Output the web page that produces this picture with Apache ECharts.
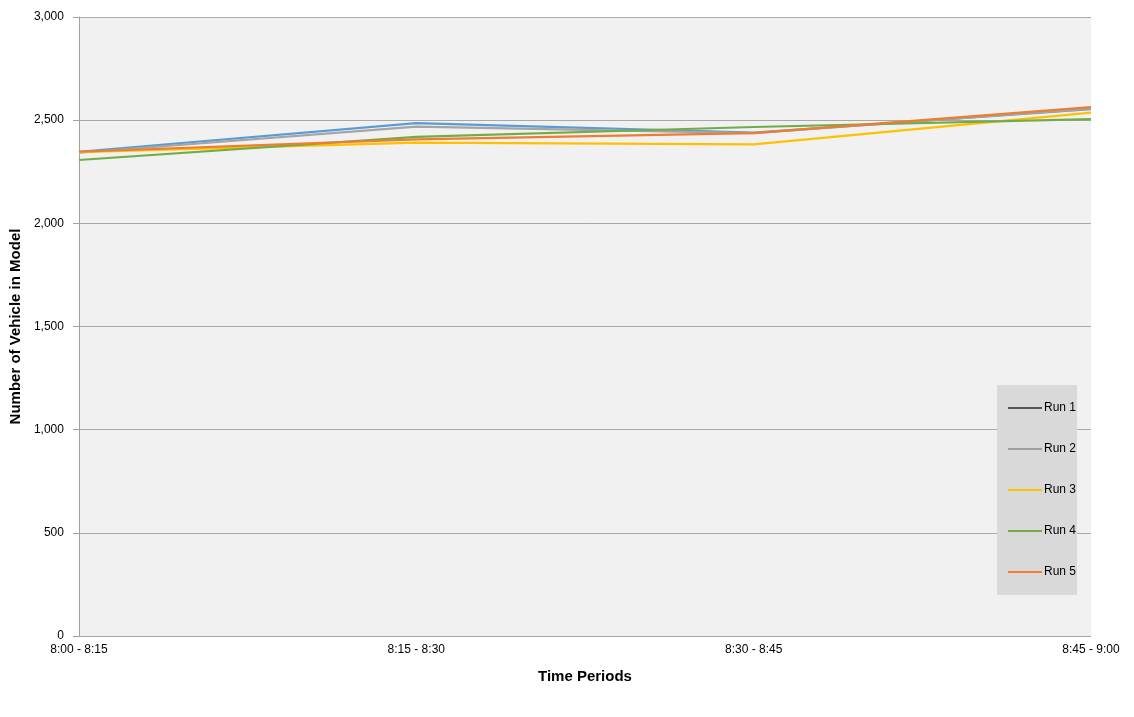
<!DOCTYPE html>
<html><head><meta charset="utf-8">
<script src="https://cdn.jsdelivr.net/npm/echarts@6/dist/echarts.min.js"></script>
<style>html,body{margin:0;padding:0;background:#fff}#c{width:1134px;height:717px}</style>
</head><body><div id="c"></div>
<script>
var categories = ['8:00 - 8:15', '8:15 - 8:30', '8:30 - 8:45', '8:45 - 9:00'];
var run1 = [2347, 2486, 2440, 2553];
var run2 = [2342, 2469, 2437, 2556];
var run3 = [2345, 2391, 2383, 2537];
var run4 = [2307, 2419, 2467, 2505];
var run5 = [2347, 2407, 2437, 2563];
var seriesNames = ['Run 1', 'Run 2', 'Run 3', 'Run 4', 'Run 5'];
var seriesData = [run1, run2, run3, run4, run5];
var colors = ['#5B9BD5', '#A5A5A5', '#FFC000', '#70AD47', '#ED7D31'];
var legendColors = ['#555555', '#a0a0a0', '#FFC000', '#70AD47', '#ED7D31'];
var font = 'Liberation Sans, Arial, sans-serif';

var chart = echarts.init(document.getElementById('c'));
var series = seriesData.map(function (d, i) {
  return {
    name: seriesNames[i], type: 'line', data: d, symbol: 'none',
    lineStyle: { width: 2.2, color: colors[i] }, itemStyle: { color: legendColors[i] },
    z: [2, 3, 4, 5, 6][i]
  };
});
chart.setOption({
  animation: false,
  color: colors,
  grid: { left: 78, right: 43, top: 17, bottom: 81, show: true, backgroundColor: '#f1f1f1', borderWidth: 0 },
  graphic: [{
    type: 'rect', left: 997, top: 385, z: 1,
    shape: { width: 80, height: 210 },
    style: { fill: '#d9d9d9' }
  }],
  legend: {
    orient: 'vertical', left: 1003, top: 397, itemGap: 29, itemWidth: 34, itemHeight: 2,
    icon: 'rect', z: 5,
    textStyle: { fontFamily: font, fontSize: 12, color: '#000', padding: [0, 0, 0, -3] },
    data: seriesNames
  },
  xAxis: {
    type: 'category', data: categories, boundaryGap: false,
    name: 'Time Periods', nameLocation: 'middle', nameGap: 33,
    nameTextStyle: { fontFamily: font, fontSize: 15, fontWeight: 'bold', color: '#000' },
    axisLine: { show: false }, axisTick: { show: false },
    axisLabel: { fontFamily: font, fontSize: 12, color: '#000', margin: 8 },
    splitLine: { show: false }
  },
  yAxis: {
    type: 'value', min: 0, max: 3000, interval: 500,
    name: 'Number of Vehicle in Model', nameLocation: 'middle', nameGap: 55,
    nameTextStyle: { fontFamily: font, fontSize: 15, fontWeight: 'bold', color: '#000' },
    axisLine: { show: true, lineStyle: { color: '#a0a0a0', width: 1 } },
    axisTick: { show: true, length: 6, lineStyle: { color: '#a0a0a0' } },
    axisLabel: { fontFamily: font, fontSize: 12, color: '#000', margin: 15,
      formatter: function (v) { return v.toLocaleString('en-US'); } },
    splitLine: { show: true, lineStyle: { color: '#a8a8a8', width: 1 } }
  },
  series: series
});
</script></body></html>
